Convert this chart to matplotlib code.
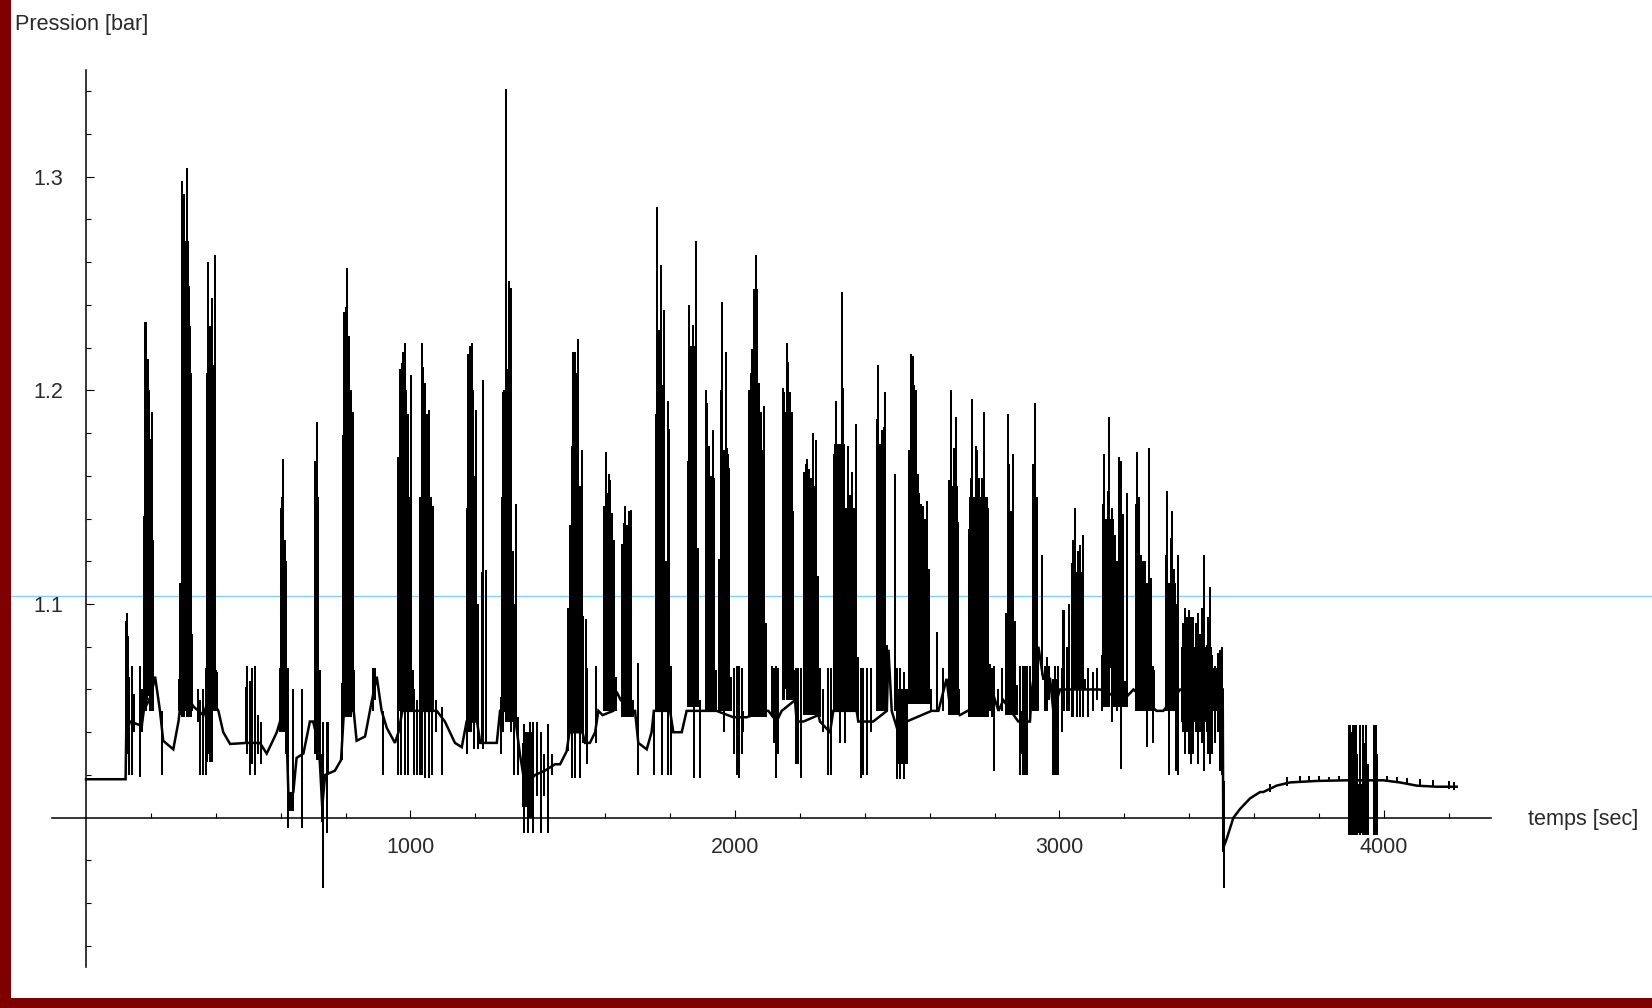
import matplotlib
matplotlib.use("Agg")
import matplotlib.pyplot as plt
from matplotlib.patches import Rectangle
import numpy as np

plt.rcParams['font.family'] = ['Liberation Sans', 'DejaVu Sans']

# ---------------- data ----------------
base_t = [0, 122, 124, 136, 172, 178, 200, 213, 228, 238, 269, 285, 295, 320, 331, 362, 370, 400,
          408, 423, 444, 495, 536, 557, 588, 598, 612, 620, 624, 639, 649, 670, 690, 700, 716, 721,
          728, 737, 767, 786, 795, 825, 834, 860, 880, 896, 911, 927, 952, 963, 975, 1000, 1009,
          1029, 1075, 1081, 1106, 1137, 1158, 1173, 1205, 1215, 1240, 1266, 1276, 1320, 1337,
          1353, 1384, 1414, 1445, 1461, 1481, 1490, 1530, 1538, 1553, 1569, 1579, 1592, 1625,
          1635, 1648, 1685, 1692, 1702, 1728, 1743, 1750, 1800, 1810, 1836, 1851, 1897, 1943,
          1995, 2036, 2095, 2103, 2128, 2144, 2185, 2190, 2211, 2257, 2262, 2293, 2303, 2375,
          2380, 2426, 2468, 2473, 2483, 2503, 2529, 2606, 2627, 2652, 2660, 2693, 2717, 2786,
          2791, 2812, 2827, 2873, 2909, 2915, 2935, 2950, 2971, 2981, 3002, 3084, 3125, 3197,
          3228, 3299, 3320, 3372, 3470, 3495, 3503, 3505, 3515, 3536, 3556, 3587, 3618, 3628,
          3669, 3710, 3793, 3885, 3998, 4049, 4101, 4162, 4224]
base_p = [1.018, 1.018, 1.040, 1.045, 1.043, 1.050, 1.057, 1.066, 1.050, 1.036, 1.032, 1.045,
          1.058, 1.055, 1.052, 1.048, 1.052, 1.052, 1.050, 1.040, 1.0345, 1.035, 1.035, 1.030,
          1.040, 1.045, 1.060, 1.030, 1.010, 1.012, 1.028, 1.030, 1.045, 1.045, 1.035, 1.025,
          1.005, 1.020, 1.022, 1.027, 1.050, 1.050, 1.036, 1.038, 1.054, 1.066, 1.050, 1.042,
          1.035, 1.040, 1.050, 1.050, 1.050, 1.050, 1.050, 1.050, 1.045, 1.035, 1.033, 1.045,
          1.045, 1.035, 1.035, 1.035, 1.050, 1.050, 1.030, 1.015, 1.020, 1.022, 1.025, 1.025,
          1.031, 1.040, 1.040, 1.035, 1.035, 1.040, 1.050, 1.048, 1.050, 1.059, 1.055, 1.050,
          1.050, 1.035, 1.032, 1.040, 1.050, 1.050, 1.040, 1.040, 1.050, 1.050, 1.050, 1.047,
          1.047, 1.050, 1.050, 1.045, 1.050, 1.055, 1.045, 1.045, 1.048, 1.045, 1.040, 1.050,
          1.050, 1.045, 1.045, 1.050, 1.0786, 1.050, 1.040, 1.045, 1.050, 1.050, 1.065, 1.055,
          1.048, 1.050, 1.055, 1.060, 1.050, 1.055, 1.045, 1.045, 1.060, 1.080, 1.065, 1.065,
          1.050, 1.060, 1.060, 1.060, 1.055, 1.060, 1.050, 1.050, 1.060, 1.060, 1.060, 1.060,
          0.986, 0.990, 1.000, 1.004, 1.009, 1.012, 1.012, 1.015, 1.0165, 1.0172, 1.0175,
          1.0175, 1.0165, 1.015, 1.0145, 1.0145]

spike_t = [124, 126, 128, 131, 134, 143, 149, 166, 172,
           178.7, 182.8, 186, 189, 192, 197, 202.3, 207.5, 233,
           288, 291, 295, 299, 302, 306, 310, 313, 316.5, 319, 322.5, 328, 345, 351.5, 362,
           369, 374, 377, 380, 382, 385, 388, 392, 396.5, 400.6, 405,
           492, 497, 505.5, 513, 521, 531, 538,
           598, 601, 604, 606, 610, 613, 616, 621.5, 639, 667, 630,
           706, 709, 711, 714, 716, 720, 726, 731, 741.6, 747,
           788, 791, 796, 800, 803, 805, 808, 811.5, 817, 822, 827, 885, 892, 915,
           962.5, 968, 971, 973, 978, 983, 986, 988, 993, 997, 1001.5, 1006.7, 1012, 1020,
           1029, 1034.5, 1037, 1039.5, 1045, 1048, 1051, 1057, 1063, 1066, 1070, 1077.5, 1096,
           1173, 1178, 1181, 1183.5, 1186, 1188.5, 1194, 1197, 1201, 1209, 1219, 1224, 1231.6,
           1278, 1282, 1286, 1290, 1293, 1296, 1299.5, 1303.5, 1306, 1309.7, 1317, 1320, 1324, 1330.5,
           1351, 1356, 1361, 1368, 1374, 1379, 1389, 1402, 1412, 1423, 1435,
           1486.4, 1491.5, 1496.7, 1499, 1502, 1506, 1510, 1513, 1517, 1522, 1527.5, 1532.6, 1540, 1545,
           1571.7, 1596, 1601.5, 1606.6, 1610.7, 1616, 1622, 1627, 1633,
           1651, 1658, 1662, 1668, 1674, 1681, 1685, 1702,
           1750.4, 1755.5, 1760.7, 1766, 1771, 1776, 1781, 1787.4, 1792.5, 1797.7, 1803,
           1854, 1859, 1864.5, 1869.6, 1874.7, 1880, 1885, 1892,
           1909.6, 1914.7, 1918, 1921, 1926, 1931, 1935.3, 1940.5,
           1951.7, 1956, 1961, 1966, 1971, 1976.4, 1981.5, 1986.7,
           1997, 2005, 2012, 2020.5, 2026,
           2043, 2048, 2053.4, 2058.5, 2063.7, 2069, 2074, 2079, 2085, 2090.4, 2095.5,
           2113, 2120, 2125, 2133.5,
           2147, 2152, 2159, 2164.4, 2169.5, 2174.6, 2179.8, 2185, 2187, 2195, 2202,
           2212.6, 2217.8, 2223, 2228, 2234, 2239.4, 2244.5, 2249.6, 2254.8,
           2262, 2272, 2285.6, 2296,
           2306, 2311, 2316, 2323.6, 2328.7, 2333.9, 2339, 2344, 2349.3, 2355.4, 2361.6, 2367.8, 2373, 2378,
           2388, 2395.5, 2405.8, 2419,
           2436.6, 2441.7, 2448, 2452, 2458, 2462, 2468.4, 2493, 2498, 2510, 2520,
           2537, 2542.4, 2547.5, 2552.6, 2557.8, 2563, 2568, 2573, 2578, 2585.5, 2591.7, 2597.8, 2604,
           2621.5, 2642,
           2660.5, 2665.6, 2670.8, 2676, 2681, 2686, 2690,
           2721, 2726, 2731, 2736.5, 2741.7, 2746.8, 2752, 2757, 2762, 2768.4, 2774.6, 2780.7, 2785,
           2791, 2798, 2811.5, 2822,
           2834, 2840, 2845, 2850.6, 2855.7, 2863, 2870, 2878,
           2886.5, 2893.7, 2901, 2909,
           2919, 2924.5, 2929.7, 2934.8, 2945, 2955.3, 2960.5, 2969, 2986, 2996.4, 3006.7,
           3009.8, 3015, 3022, 3029.3, 3037.5, 3042.6, 3047.8, 3053, 3058, 3063, 3068, 3073.5, 3078.6,
           3089, 3104.3, 3114.6, 3130,
           3133, 3138, 3143, 3148.5, 3153.6, 3161, 3166, 3171, 3176, 3183, 3188.5, 3194.7, 3201.9, 3207,
           3234.7, 3240, 3245, 3250, 3255.3, 3260.4, 3265.6, 3270.7, 3277, 3281, 3287, 3292,
           3328, 3332.3, 3337.5, 3342.6, 3347.7, 3353, 3359, 3365,
           3379.6, 3387, 3392, 3400, 3405, 3412.5, 3419.6, 3425.8, 3433, 3440, 3446, 3453.5,
           3458.7, 3463.8, 3471, 3479, 3489.5, 3494.6, 3501.8,
           3504, 3507,
           3650, 3700, 3740, 3770, 3800, 3830, 3860, 4010, 4040, 4070, 4110, 4150, 4200, 4215,
           3893, 3896, 3899, 3905, 3910, 3914, 3918, 3926, 3935, 3939, 3946, 3950, 3970, 3974, 3977]
spike_lo = [1.020, 1.040, 1.045, 1.030, 1.020, 1.020, 1.040, 1.019, 1.040,
            1.050, 1.050, 1.050, 1.055, 1.057, 1.050, 1.050, 1.050, 1.020,
            1.050, 1.048, 1.047, 1.050, 1.047, 1.050, 1.047, 1.050, 1.047, 1.050, 1.047, 1.050, 1.045, 1.020, 1.020,
            1.020, 1.026, 1.030, 1.040, 1.026, 1.050, 1.026, 1.050, 1.050, 1.050, 1.050,
            1.035, 1.030, 1.020, 1.025, 1.020, 1.030, 1.025,
            1.040, 1.040, 1.040, 1.040, 1.040, 1.040, 1.030, 0.995, 1.010, 0.995, 1.003,
            1.030, 1.030, 1.027, 1.030, 1.027, 1.027, 0.998, 0.967, 0.993, 1.020,
            1.027, 1.050, 1.047, 1.047, 1.050, 1.047, 1.050, 1.047, 1.047, 1.050, 1.050, 1.050, 1.055, 1.020,
            1.020, 1.050, 1.020, 1.050, 1.050, 1.020, 1.050, 1.050, 1.020, 1.050, 1.050, 1.050, 1.020, 1.020,
            1.020, 1.050, 1.020, 1.050, 1.0186, 1.050, 1.050, 1.0186, 1.050, 1.020, 1.050, 1.040, 1.020,
            1.030, 1.045, 1.040, 1.045, 1.040, 1.045, 1.045, 1.032, 1.045, 1.032, 1.035, 1.032, 1.035,
            1.030, 1.045, 1.040, 1.050, 1.045, 1.050, 1.045, 1.045, 1.050, 1.040, 1.045, 1.020, 1.045, 1.020,
            0.993, 1.005, 0.993, 1.000, 1.000, 0.993, 1.010, 0.993, 1.010, 0.993, 1.020,
            1.031, 1.040, 1.0186, 1.040, 1.040, 1.0186, 1.040, 1.040, 1.040, 1.0186, 1.040, 1.035, 1.035, 1.025,
            1.035, 1.050, 1.050, 1.050, 1.050, 1.050, 1.050, 1.050, 1.050,
            1.047, 1.047, 1.047, 1.047, 1.047, 1.047, 1.047, 1.020,
            1.020, 1.050, 1.050, 1.050, 1.050, 1.020, 1.050, 1.050, 1.020, 1.050, 1.020,
            1.052, 1.052, 1.052, 1.052, 1.0186, 1.052, 1.052, 1.0186,
            1.050, 1.050, 1.050, 1.050, 1.050, 1.050, 1.050, 1.050,
            1.050, 1.050, 1.050, 1.040, 1.050, 1.050, 1.050, 1.050,
            1.030, 1.020, 1.0186, 1.030, 1.040,
            1.047, 1.047, 1.047, 1.047, 1.047, 1.047, 1.047, 1.047, 1.047, 1.047, 1.047,
            1.047, 1.035, 1.0186, 1.030,
            1.055, 1.055, 1.055, 1.055, 1.055, 1.055, 1.055, 1.055, 1.025, 1.025, 1.0186,
            1.048, 1.048, 1.048, 1.048, 1.048, 1.048, 1.048, 1.048, 1.048,
            1.047, 1.040, 1.020, 1.020,
            1.050, 1.050, 1.050, 1.035, 1.050, 1.050, 1.035, 1.050, 1.050, 1.050, 1.050, 1.050, 1.050, 1.045,
            1.0186, 1.020, 1.020, 1.040,
            1.050, 1.050, 1.050, 1.050, 1.050, 1.050, 1.050, 1.050, 1.018, 1.018, 1.018,
            1.053, 1.053, 1.053, 1.053, 1.053, 1.053, 1.053, 1.053, 1.053, 1.053, 1.053, 1.053, 1.050,
            1.050, 1.050,
            1.048, 1.048, 1.048, 1.048, 1.048, 1.048, 1.048,
            1.047, 1.047, 1.047, 1.047, 1.047, 1.047, 1.047, 1.047, 1.047, 1.047, 1.047, 1.047, 1.050,
            1.047, 1.022, 1.050, 1.050,
            1.048, 1.048, 1.048, 1.048, 1.048, 1.048, 1.048, 1.0198,
            1.020, 1.020, 1.020, 1.045,
            1.050, 1.050, 1.050, 1.050, 1.067, 1.050, 1.050, 1.055, 1.020, 1.020, 1.040,
            1.050, 1.050, 1.050, 1.050, 1.047, 1.047, 1.060, 1.047, 1.060, 1.047, 1.060, 1.047, 1.060,
            1.047, 1.050, 1.055, 1.050,
            1.052, 1.052, 1.052, 1.052, 1.052, 1.045, 1.052, 1.052, 1.050, 1.052, 1.023, 1.052, 1.052, 1.052,
            1.050, 1.050, 1.050, 1.050, 1.050, 1.050, 1.050, 1.033, 1.050, 1.050, 1.035, 1.050,
            1.050, 1.050, 1.020, 1.050, 1.050, 1.050, 1.022, 1.020,
            1.040, 1.030, 1.040, 1.030, 1.025, 1.030, 1.040, 1.025, 1.040, 1.035, 1.022, 1.040,
            1.030, 1.025, 1.030, 1.035, 1.040, 1.022, 1.020,
            0.984, 0.967,
            1.012, 1.015, 1.0165, 1.017, 1.017, 1.0172, 1.0172, 1.017, 1.0165, 1.016, 1.015, 1.0145, 1.0135, 1.013,
            0.9917, 0.992, 0.9917, 0.992, 0.9917, 0.992, 0.9917, 0.992, 0.9917, 0.992, 0.9917, 0.992, 0.9917, 0.992, 0.9917]
spike_hi = [1.092, 1.096, 1.085, 1.070, 1.066, 1.071, 1.058, 1.071, 1.060,
            1.141, 1.232, 1.232, 1.200, 1.2145, 1.177, 1.190, 1.130, 1.050,
            1.065, 1.110, 1.298, 1.280, 1.2917, 1.2697, 1.304, 1.270, 1.249, 1.230, 1.208, 1.086, 1.060, 1.055, 1.060,
            1.070, 1.208, 1.260, 1.200, 1.230, 1.220, 1.243, 1.212, 1.2635, 1.069, 1.068,
            1.061, 1.071, 1.064, 1.070, 1.071, 1.048, 1.045,
            1.070, 1.145, 1.150, 1.168, 1.129, 1.130, 1.120, 1.070, 1.060, 1.060, 1.012,
            1.167, 1.160, 1.185, 1.150, 1.142, 1.069, 1.030, 1.045, 1.045, 1.045,
            1.063, 1.179, 1.2366, 1.239, 1.200, 1.257, 1.220, 1.2255, 1.200, 1.190, 1.069, 1.070, 1.070, 1.050,
            1.169, 1.210, 1.200, 1.213, 1.218, 1.222, 1.200, 1.169, 1.189, 1.150, 1.207, 1.069, 1.060, 1.055,
            1.150, 1.222, 1.190, 1.211, 1.2035, 1.170, 1.189, 1.191, 1.150, 1.120, 1.146, 1.055, 1.052,
            1.145, 1.217, 1.200, 1.2207, 1.210, 1.222, 1.199, 1.160, 1.191, 1.100, 1.115, 1.205, 1.116,
            1.0566, 1.150, 1.199, 1.200, 1.341, 1.200, 1.210, 1.251, 1.200, 1.248, 1.125, 1.100, 1.147, 1.047,
            1.044, 1.040, 1.040, 1.045, 1.040, 1.045, 1.045, 1.040, 1.030, 1.044, 1.030,
            1.098, 1.137, 1.174, 1.150, 1.218, 1.218, 1.208, 1.180, 1.224, 1.155, 1.172, 1.0945, 1.093, 1.070,
            1.071, 1.146, 1.171, 1.152, 1.161, 1.158, 1.1425, 1.130, 1.066,
            1.128, 1.138, 1.146, 1.137, 1.1435, 1.144, 1.055, 1.0725,
            1.050, 1.189, 1.2856, 1.228, 1.2586, 1.2023, 1.2378, 1.120, 1.195, 1.182, 1.071,
            1.167, 1.240, 1.2207, 1.2305, 1.2207, 1.270, 1.126, 1.055,
            1.200, 1.194, 1.170, 1.174, 1.159, 1.1815, 1.159, 1.069,
            1.121, 1.200, 1.2415, 1.172, 1.218, 1.173, 1.1635, 1.066,
            1.070, 1.071, 1.071, 1.070, 1.050,
            1.200, 1.208, 1.2195, 1.2476, 1.2635, 1.2476, 1.2035, 1.1766, 1.172, 1.1925, 1.091,
            1.071, 1.070, 1.071, 1.070,
            1.201, 1.199, 1.222, 1.2133, 1.199, 1.1876, 1.1435, 1.069, 1.070, 1.070, 1.070,
            1.162, 1.1655, 1.168, 1.163, 1.159, 1.180, 1.1496, 1.1766, 1.113,
            1.070, 1.060, 1.070, 1.070,
            1.170, 1.195, 1.163, 1.093, 1.246, 1.201, 1.120, 1.141, 1.174, 1.151, 1.162, 1.1374, 1.184, 1.075,
            1.070, 1.070, 1.070, 1.070,
            1.1864, 1.212, 1.159, 1.1815, 1.1827, 1.199, 1.081, 1.161, 1.070, 1.070, 1.068,
            1.172, 1.217, 1.216, 1.2023, 1.164, 1.161, 1.152, 1.147, 1.146, 1.1276, 1.148, 1.1166, 1.060,
            1.087, 1.070,
            1.158, 1.200, 1.130, 1.173, 1.1876, 1.1386, 1.060,
            1.135, 1.159, 1.196, 1.140, 1.174, 1.172, 1.159, 1.130, 1.159, 1.190, 1.146, 1.145, 1.072,
            1.070, 1.071, 1.060, 1.070,
            1.096, 1.189, 1.1655, 1.1435, 1.170, 1.092, 1.062, 1.071,
            1.071, 1.071, 1.071, 1.071,
            1.1655, 1.194, 1.150, 1.076, 1.123, 1.071, 1.075, 1.071, 1.071, 1.071, 1.070,
            1.097, 1.097, 1.080, 1.100, 1.119, 1.130, 1.1447, 1.115, 1.125, 1.1276, 1.090, 1.1325, 1.065,
            1.070, 1.068, 1.070, 1.076,
            1.147, 1.170, 1.080, 1.153, 1.1876, 1.145, 1.140, 1.1325, 1.100, 1.169, 1.1668, 1.142, 1.064, 1.152,
            1.147, 1.171, 1.150, 1.123, 1.110, 1.118, 1.095, 1.110, 1.173, 1.112, 1.071, 1.069,
            1.123, 1.153, 1.096, 1.131, 1.1435, 1.1166, 1.100, 1.123,
            1.091, 1.098, 1.094, 1.097, 1.094, 1.094, 1.091, 1.096, 1.086, 1.098, 1.123, 1.081,
            1.094, 1.108, 1.076, 1.071, 1.077, 1.0786, 1.080,
            1.060, 1.017,
            1.016, 1.019, 1.0195, 1.0195, 1.0195, 1.0192, 1.0195, 1.0195, 1.019, 1.0185, 1.018, 1.0175, 1.017, 1.0165,
            1.0436, 1.0436, 1.040, 1.0436, 1.0436, 1.0436, 1.030, 1.0436, 1.0436, 1.035, 1.0436, 1.025, 1.0436, 1.0436, 1.030]

core_t0 = [181, 198, 294, 316, 377, 601, 628, 704, 790, 965, 1033, 1058, 1175, 1195, 1285, 1345,
           1496, 1598, 1653, 1752, 1856, 1908, 1953, 2043, 2147, 2213, 2305, 2340, 2434, 2497,
           2538, 2560, 2661, 2722, 2837, 2882, 2917, 2976, 3034, 3133, 3165, 3236, 3328, 3374,
           3470, 3895]
core_t1 = [198, 205, 316, 325, 399, 614, 640, 716, 815, 990, 1058, 1070, 1195, 1205, 1305, 1375,
           1520, 1624, 1680, 1785, 1882, 1935, 1982, 2082, 2178, 2250, 2340, 2372, 2460, 2532,
           2560, 2590, 2688, 2780, 2858, 2900, 2932, 2996, 3070, 3165, 3200, 3268, 3360, 3470,
           3500, 3948]
core_lo = [1.060, 1.060, 1.055, 1.055, 1.052, 1.060, 1.003, 1.030, 1.052, 1.050, 1.050, 1.050,
           1.045, 1.045, 1.050, 1.005, 1.040, 1.050, 1.050, 1.050, 1.052, 1.050, 1.050, 1.050,
           1.060, 1.070, 1.065, 1.065, 1.060, 1.025, 1.060, 1.060, 1.070, 1.080, 1.070, 1.030,
           1.080, 1.020, 1.070, 1.070, 1.065, 1.065, 1.070, 1.045, 1.050, 0.993]
core_hi = [1.200, 1.140, 1.270, 1.210, 1.200, 1.130, 1.012, 1.140, 1.178, 1.200, 1.180, 1.140,
           1.200, 1.140, 1.200, 1.035, 1.170, 1.135, 1.125, 1.185, 1.220, 1.160, 1.170, 1.190,
           1.190, 1.155, 1.175, 1.145, 1.175, 1.060, 1.200, 1.140, 1.155, 1.150, 1.140, 1.050,
           1.150, 1.065, 1.115, 1.140, 1.120, 1.120, 1.110, 1.080, 1.070, 1.016]

threshold = 1.1037

x_major = [1000, 2000, 3000, 4000]
x_minor = [200, 400, 600, 800, 1200, 1400, 1600, 1800, 2200, 2400, 2600, 2800,
           3200, 3400, 3600, 3800, 4200]
y_major = [1.1, 1.2, 1.3]
y_minor = [0.94, 0.96, 0.98, 1.02, 1.04, 1.06, 1.08, 1.12, 1.14, 1.16, 1.18,
           1.22, 1.24, 1.26, 1.28, 1.32, 1.34]

# ---------------- figure ----------------
W, H = 1652, 1008
fig = plt.figure(figsize=(W / 100, H / 100), dpi=100, facecolor='white')
ax = fig.add_axes([0, 0, 1, 1])
ax.set_facecolor('white')
ax.set_xlim(-265.0, 4826.0)
ax.set_ylim(0.91095, 1.38264)

ax.axhline(threshold, color='#82cff7', lw=1.0, zorder=1)

ax.plot(base_t, base_p, color='black', lw=1.8, zorder=3, solid_joinstyle='miter')
ax.vlines(spike_t, spike_lo, spike_hi, colors='black', lw=1.45, zorder=3)
ax.bar(core_t0, np.subtract(core_hi, core_lo), width=np.subtract(core_t1, core_t0),
       bottom=core_lo, align='edge', color='black', linewidth=0, zorder=3)

for s in ['top', 'right']:
    ax.spines[s].set_visible(False)
ax.spines['left'].set_position(('data', 0))
ax.spines['bottom'].set_position(('data', 1.0))
ax.spines['left'].set_bounds(0.93, 1.35)
ax.spines['bottom'].set_bounds(-106, 4330)
for s in ['left', 'bottom']:
    ax.spines[s].set_linewidth(1.1)
    ax.spines[s].set_color('black')
    ax.spines[s].set_zorder(2)

ax.set_xticks(x_major)
ax.set_xticks(x_minor, minor=True)
ax.set_xticklabels([str(v) for v in x_major])
ax.set_yticks(y_major)
ax.set_yticks(y_minor, minor=True)
ax.set_yticklabels(['%.1f' % v for v in y_major])

ax.tick_params(axis='both', which='both', direction='in', color='black', width=0.8,
               labelsize=15.5, labelcolor='#2a2a2a')
ax.tick_params(axis='both', which='major', length=6)
ax.tick_params(axis='both', which='minor', length=3.8)
ax.tick_params(axis='x', which='both', pad=14)
ax.tick_params(axis='y', which='both', pad=16.5)

ax.text(4444, 0.99658, 'temps [sec]', fontsize=15.6, color='#2a2a2a',
        ha='left', va='baseline')
fig.text(15 / W, 1 - 30 / H, 'Pression [bar]', fontsize=15.6, color='#2a2a2a',
         ha='left', va='baseline')

# dark red frame on the left and bottom edges
fig.add_artist(Rectangle((0, 0), 11 / W, 1, transform=fig.transFigure,
                         facecolor='#7f0000', edgecolor='none', zorder=10))
fig.add_artist(Rectangle((0, 0), 1, 10 / H, transform=fig.transFigure,
                         facecolor='#7f0000', edgecolor='none', zorder=10))

fig.savefig('out.png', dpi=100, facecolor='white')
